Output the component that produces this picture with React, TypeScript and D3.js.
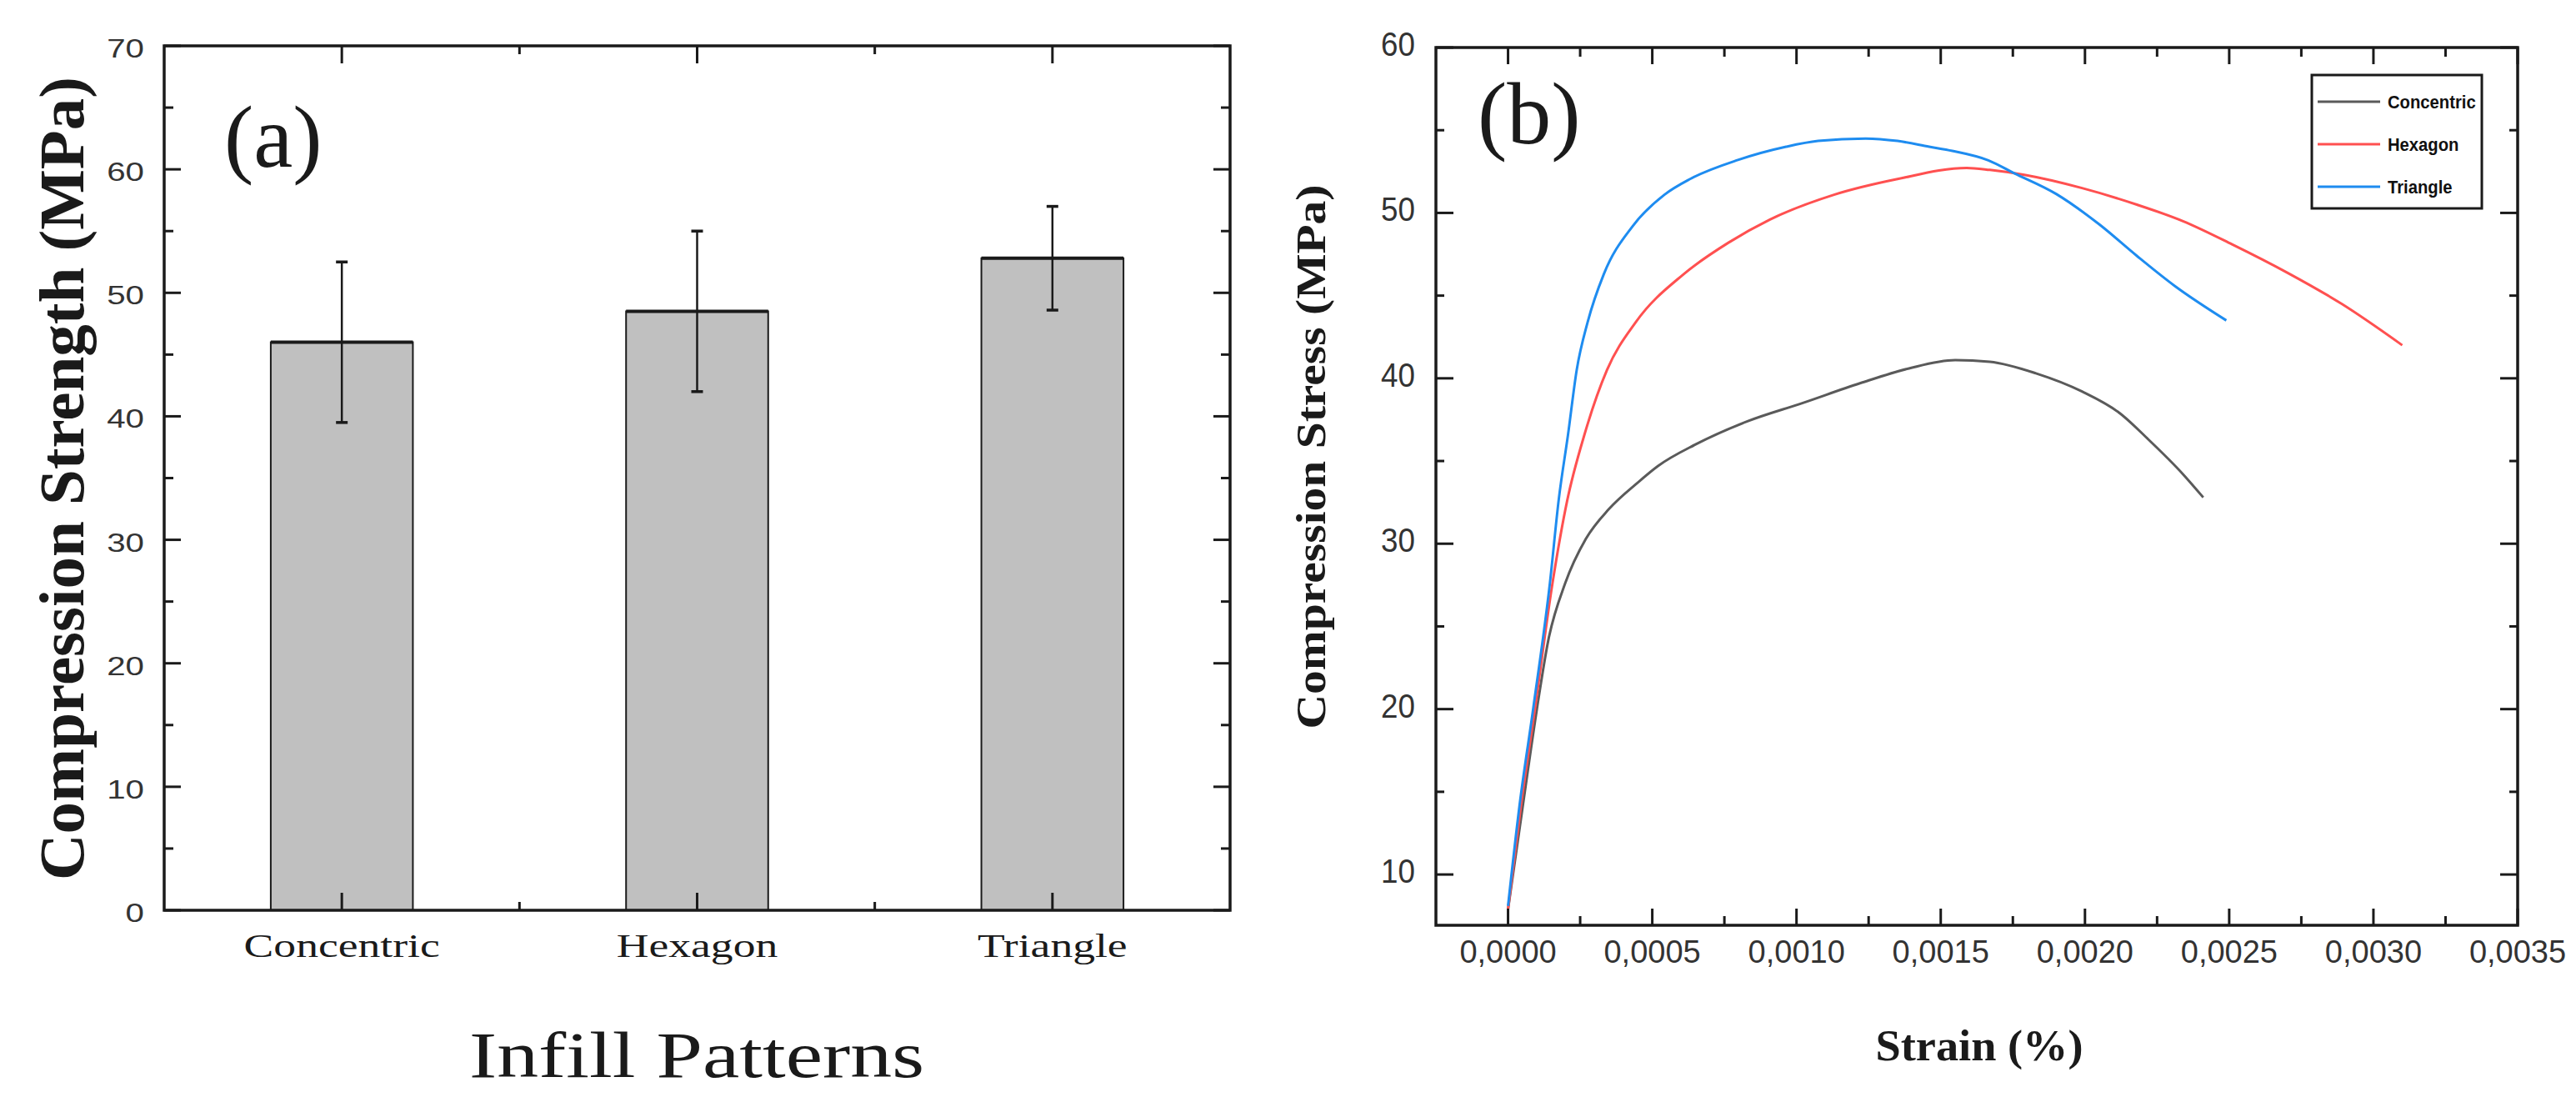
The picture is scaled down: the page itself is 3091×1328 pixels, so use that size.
import React from 'react';
import * as d3 from 'd3';

// ---- panel (a): compression strength per infill pattern ----
const patterns = ['Concentric', 'Hexagon', 'Triangle'];
const strengthMean = [46.0, 48.5, 52.8];
const strengthErr = [6.5, 6.5, 4.2];
const strengthTicks = [0, 10, 20, 30, 40, 50, 60, 70];

// ---- panel (b): stress-strain curves [strain, stress] ----
const concentricCurve: [number, number][] = [
  [0, 7.9], [0.00005, 14.0], [0.0001, 20.0], [0.00014, 24.2], [0.000198, 27.6],
  [0.00027, 30.3], [0.00035, 32.1], [0.00045, 33.7], [0.00052, 34.7], [0.00065, 36.0],
  [0.00083, 37.4], [0.00102, 38.5], [0.00122, 39.7], [0.00139, 40.6], [0.00155, 41.1],
  [0.00167, 41.0], [0.00183, 40.3], [0.00199, 39.2], [0.00212, 37.9], [0.00222, 36.3],
  [0.00234, 34.2], [0.00241, 32.8],
];
const hexagonCurve: [number, number][] = [
  [0, 7.9], [0.000045, 14.2], [0.000093, 20.0], [0.000154, 27.6], [0.000205, 32.6],
  [0.000265, 36.6], [0.000343, 40.5], [0.000443, 43.4], [0.000609, 46.3], [0.000764, 48.2],
  [0.000908, 49.6], [0.00113, 51.1], [0.00135, 52.05], [0.00159, 52.72], [0.00167, 52.6],
  [0.00179, 52.3], [0.00199, 51.5], [0.00218, 50.5], [0.00234, 49.5], [0.00251, 48.1],
  [0.0027, 46.4], [0.00289, 44.5], [0.0031, 42.0],
];
const triangleCurve: [number, number][] = [
  [0, 8.1], [0.00004, 14.2], [0.000087, 20.0], [0.000145, 27.6], [0.000176, 32.7],
  [0.000208, 36.6], [0.000238, 40.5], [0.000276, 43.4], [0.000332, 46.3], [0.000432, 49.2],
  [0.000542, 51.1], [0.000631, 52.05], [0.000797, 53.2], [0.000964, 54.0], [0.001075, 54.35],
  [0.00124, 54.5], [0.00135, 54.35], [0.00146, 54.0], [0.00154, 53.75], [0.001665, 53.18],
  [0.001755, 52.4], [0.0019, 51.15], [0.00205, 49.3], [0.00218, 47.4], [0.00231, 45.6],
  [0.00249, 43.5],
];
const seriesNames = ['Concentric', 'Hexagon', 'Triangle'];
const strainTicks = [0, 0.0005, 0.001, 0.0015, 0.002, 0.0025, 0.003, 0.0035];
const stressTicks = [10, 20, 30, 40, 50, 60];

const seriesColors = ['#5a5a5a', '#ff5050', '#1e8cf0'];
const SANS = 'Liberation Sans, Arial, sans-serif';
const SERIF = 'Liberation Serif, Times New Roman, serif';
const INK = '#1a1a1a';

const W = 3091;
const H = 1328;

// text with a horizontal stretch around its anchor point
const SText = ({ x, y, sx = 1, anchor = 'start', size, family = SERIF, weight = 'normal', fill = INK, children }: any) => (
  <text
    transform={`translate(${x},${y}) scale(${sx},1)`}
    textAnchor={anchor}
    fontSize={size}
    fontFamily={family}
    fontWeight={weight}
    fill={fill}
  >
    {children}
  </text>
);

const PanelA = () => {
  const x0 = 197, x1 = 1476, y0 = 55, y1 = 1092;
  const x = d3.scaleLinear().domain([0.5, 3.5]).range([x0, x1]);
  const y = d3.scaleLinear().domain([0, 70]).range([y1, y0]);
  const barW = x(1.4) - x(1);
  const minorY = d3.range(5, 70, 10);
  const minorX = [1.5, 2.5];

  return (
    <g>
      {patterns.map((p, i) => {
        const cx = x(i + 1);
        const top = y(strengthMean[i]);
        return (
          <g key={p}>
            <rect x={cx - barW / 2} y={top} width={barW} height={y1 - top}
              fill="#c0c0c0" stroke={INK} strokeWidth={2} />
            <line x1={cx - barW / 2} x2={cx + barW / 2} y1={top} y2={top} stroke={INK} strokeWidth={4} />
            <line x1={cx} x2={cx} y1={y(strengthMean[i] + strengthErr[i])} y2={y(strengthMean[i] - strengthErr[i])}
              stroke={INK} strokeWidth={2.5} />
            {[1, -1].map(s => (
              <line key={s} x1={cx - 7} x2={cx + 7}
                y1={y(strengthMean[i] + s * strengthErr[i])} y2={y(strengthMean[i] + s * strengthErr[i])}
                stroke={INK} strokeWidth={3.5} />
            ))}
          </g>
        );
      })}

      {/* ticks, pointing inward on all four sides */}
      {strengthTicks.map(t => (
        <g key={'yt' + t} stroke={INK} strokeWidth={3}>
          <line x1={x0} x2={x0 + 20} y1={y(t)} y2={y(t)} />
          <line x1={x1} x2={x1 - 20} y1={y(t)} y2={y(t)} />
        </g>
      ))}
      {minorY.map(t => (
        <g key={'ym' + t} stroke={INK} strokeWidth={3}>
          <line x1={x0} x2={x0 + 11} y1={y(t)} y2={y(t)} />
          <line x1={x1} x2={x1 - 11} y1={y(t)} y2={y(t)} />
        </g>
      ))}
      {patterns.map((p, i) => (
        <g key={'xt' + p} stroke={INK} strokeWidth={3}>
          <line x1={x(i + 1)} x2={x(i + 1)} y1={y0} y2={y0 + 21} />
          <line x1={x(i + 1)} x2={x(i + 1)} y1={y1} y2={y1 - 21} />
        </g>
      ))}
      {minorX.map(t => (
        <g key={'xm' + t} stroke={INK} strokeWidth={3}>
          <line x1={x(t)} x2={x(t)} y1={y0} y2={y0 + 10} />
          <line x1={x(t)} x2={x(t)} y1={y1} y2={y1 - 10} />
        </g>
      ))}
      <rect x={x0} y={y0} width={x1 - x0} height={y1 - y0} fill="none" stroke={INK} strokeWidth={3.5} />

      {strengthTicks.map(t => (
        <SText key={'yl' + t} x={173} y={y(t) + 14} sx={1.26} anchor="end" size={32} family={SANS} fill="#333">
          {t}
        </SText>
      ))}
      {patterns.map((p, i) => (
        <SText key={'xl' + p} x={x(i + 1)} y={1148} sx={1.34} anchor="middle" size={40}>
          {p}
        </SText>
      ))}

      <SText x={836} y={1292} sx={1.28} anchor="middle" size={78}>Infill Patterns</SText>
      <text transform="translate(100,574) rotate(-90)" textAnchor="middle" fontSize={76}
        fontFamily={SERIF} fontWeight="bold" fill={INK} textLength={964} lengthAdjust="spacingAndGlyphs">
        Compression Strength (MPa)
      </text>
      <SText x={269} y={200} size={106}>(a)</SText>
    </g>
  );
};

const PanelB = () => {
  const x0 = 1723, x1 = 3021, y0 = 57, y1 = 1110;
  const x = d3.scaleLinear().domain([-0.00025, 0.0035]).range([x0, x1]);
  const y = d3.scaleLinear().domain([6.93, 60]).range([y1, y0]);
  const line = d3.line<[number, number]>()
    .x(d => x(d[0]))
    .y(d => y(d[1]))
    .curve(d3.curveMonotoneX);
  const curves = [concentricCurve, hexagonCurve, triangleCurve];
  const minorX = d3.range(0.00025, 0.0035, 0.0005);
  const minorY = d3.range(15, 60, 10);
  const fmt = (v: number) => v.toFixed(4).replace('.', ',');

  return (
    <g>
      {curves.map((c, i) => (
        <path key={seriesNames[i]} d={line(c) || ''} fill="none" stroke={seriesColors[i]}
          strokeWidth={3} strokeLinejoin="round" />
      ))}

      {stressTicks.map(t => (
        <g key={'yt' + t} stroke={INK} strokeWidth={3}>
          <line x1={x0} x2={x0 + 21} y1={y(t)} y2={y(t)} />
          <line x1={x1} x2={x1 - 21} y1={y(t)} y2={y(t)} />
        </g>
      ))}
      {minorY.map(t => (
        <g key={'ym' + t} stroke={INK} strokeWidth={3}>
          <line x1={x0} x2={x0 + 10} y1={y(t)} y2={y(t)} />
          <line x1={x1} x2={x1 - 10} y1={y(t)} y2={y(t)} />
        </g>
      ))}
      {strainTicks.map(t => (
        <g key={'xt' + t} stroke={INK} strokeWidth={3}>
          <line x1={x(t)} x2={x(t)} y1={y0} y2={y0 + 20} />
          <line x1={x(t)} x2={x(t)} y1={y1} y2={y1 - 20} />
        </g>
      ))}
      {minorX.map(t => (
        <g key={'xm' + t} stroke={INK} strokeWidth={3}>
          <line x1={x(t)} x2={x(t)} y1={y0} y2={y0 + 11} />
          <line x1={x(t)} x2={x(t)} y1={y1} y2={y1 - 11} />
        </g>
      ))}
      <rect x={x0} y={y0} width={x1 - x0} height={y1 - y0} fill="none" stroke={INK} strokeWidth={3.5} />

      {stressTicks.map(t => (
        <SText key={'yl' + t} x={1698} y={y(t) + 10} sx={0.92} anchor="end" size={40} family={SANS} fill="#333">
          {t}
        </SText>
      ))}
      {strainTicks.map(t => (
        <SText key={'xl' + t} x={x(t)} y={1155} anchor="middle" size={38} family={SANS} fill="#333">
          {fmt(t)}
        </SText>
      ))}

      <text x={2375} y={1272} textAnchor="middle" fontSize={52} fontFamily={SERIF} fontWeight="bold"
        fill={INK} textLength={249} lengthAdjust="spacingAndGlyphs">
        Strain (%)
      </text>
      <text transform="translate(1590,548) rotate(-90)" textAnchor="middle" fontSize={50}
        fontFamily={SERIF} fontWeight="bold" fill={INK} textLength={653} lengthAdjust="spacingAndGlyphs">
        Compression Stress (MPa)
      </text>
      <SText x={1773} y={172} size={106}>(b)</SText>

      {/* legend */}
      <rect x={2774} y={90} width={204} height={160} fill="#fff" stroke={INK} strokeWidth={3} />
      {seriesNames.map((n, i) => {
        const ly = 122 + i * 51;
        return (
          <g key={'lg' + n}>
            <line x1={2781} x2={2856} y1={ly} y2={ly} stroke={seriesColors[i]} strokeWidth={3} />
            <SText x={2865} y={ly + 8} sx={0.92} size={22} family={SANS} weight="bold" fill="#111">
              {n}
            </SText>
          </g>
        );
      })}
    </g>
  );
};

const App: React.FC = () => (
  <svg width={W} height={H} viewBox={`0 0 ${W} ${H}`}
    style={{ position: 'absolute', left: 0, top: 0, background: '#fff' }}>
    <rect width={W} height={H} fill="#fff" />
    <PanelA />
    <PanelB />
  </svg>
);

export default App;
